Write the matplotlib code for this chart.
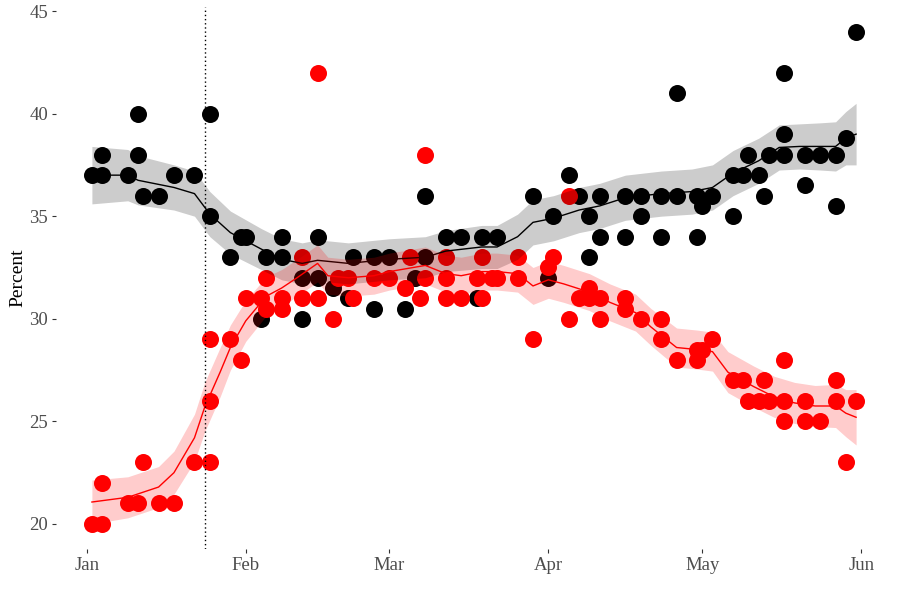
import numpy as np
import matplotlib
matplotlib.use('Agg')
import matplotlib.pyplot as plt
import matplotlib.dates as mdates

START = np.datetime64('2019-01-01')

# poll results, days counted from Jan 1
black_days = [1, 3, 3, 8, 10, 10, 11, 14, 17, 21, 24, 24,
              28, 30, 31, 34, 35, 38, 38, 42, 42, 45, 45, 48, 51, 52, 56, 56, 59,
              62, 64, 66, 66, 70, 73, 76, 77, 80, 87, 90, 91,
              94, 96, 98, 98, 100, 100, 105, 105, 108, 108, 112, 112, 115, 115,
              119, 119, 120, 122, 126, 126, 128, 129, 131, 132, 133,
              136, 136, 136, 140, 140, 143, 146, 146, 148, 150]
black_vals = [37, 37, 38, 37, 40, 38, 36, 36, 37, 37, 40, 35,
              33, 34, 34, 30, 33, 34, 33, 32, 30, 32, 34, 31.5, 31, 33, 33, 30.5, 33,
              30.5, 32, 33, 36, 34, 34, 31, 34, 34, 36, 32, 35,
              37, 36, 35, 33, 36, 34, 36, 34, 36, 35, 36, 34, 36, 41,
              36, 34, 35.5, 36, 35, 37, 37, 38, 37, 36, 38,
              38, 39, 42, 38, 36.5, 38, 38, 35.5, 38.8, 44]

red_days = [1, 3, 3, 8, 10, 11, 14, 17, 21, 24, 24, 24,
            28, 30, 31, 34, 35, 35, 38, 38, 42, 42, 45, 45, 48, 49, 51, 52, 56, 59,
            62, 63, 65, 66, 66, 70, 70, 70, 73, 76, 77, 77, 79, 80, 84, 84, 87, 90, 91,
            94, 94, 96, 98, 98, 100, 100, 105, 105, 108, 112, 112, 115,
            119, 119, 120, 122, 126, 128, 129, 131, 132, 133,
            136, 136, 136, 140, 140, 143, 146, 146, 148, 150]
red_vals = [20, 20, 22, 21, 21, 23, 21, 21, 23, 23, 26, 29,
            29, 28, 31, 31, 32, 30.5, 31, 30.5, 33, 31, 31, 42, 30, 32, 32, 31, 32, 32,
            31.5, 33, 31, 38, 32, 33, 32, 31, 31, 32, 33, 31, 32, 32, 33, 32, 29, 32.5, 33,
            36, 30, 31, 31.5, 31, 31, 30, 31, 30.5, 30, 30, 29, 28,
            28.5, 28, 28.5, 29, 27, 27, 26, 26, 27, 26,
            26, 28, 25, 26, 25, 25, 27, 26, 23, 26]

# smoothed trend + band half-width
black_trend_days = [1, 8, 10, 17, 21, 24, 28, 34, 38, 42, 45, 49, 51, 59, 66, 70, 77, 80,
                    84, 87, 91, 96, 100, 105, 112, 118, 122, 126, 131, 135, 139, 143,
                    146, 148, 150]
black_trend = [37.0, 37.0, 36.75, 36.4, 36.1, 35.1, 34.2, 33.4, 32.9, 32.7, 32.85, 32.75,
               32.7, 32.9, 33.0, 33.3, 33.5, 33.5, 34.0, 34.7, 34.9, 35.3, 35.5, 35.9,
               36.1, 36.2, 36.4, 37.1, 37.7, 38.35, 38.4, 38.4, 38.4, 38.8, 39.0]
black_band = [1.4, 1.25, 1.2, 1.1, 1.1, 1.1, 1.05, 1.0, 1.0, 1.0, 1.0, 1.0,
              1.0, 1.0, 1.0, 1.0, 1.05, 1.05, 1.1, 1.1, 1.1, 1.1, 1.1, 1.1,
              1.1, 1.1, 1.1, 1.1, 1.1, 1.1, 1.1, 1.15, 1.2, 1.3, 1.5]

red_trend_days = [1, 8, 14, 17, 21, 23, 26, 28, 31, 35, 38, 41, 45, 47, 51, 56, 59, 66,
                  70, 73, 77, 80, 84, 87, 90, 93, 98, 102, 107, 110, 115, 119, 122,
                  125, 130, 134, 138, 142, 146, 148, 150]
red_trend = [21.07, 21.3, 21.8, 22.5, 24.2, 25.7, 27.4, 28.6, 29.9, 31.1, 31.5, 32.0,
             32.7, 32.1, 32.0, 32.1, 32.3, 32.6, 32.2, 32.1, 32.3, 32.3, 32.2, 31.6,
             31.9, 31.7, 31.3, 30.8, 30.3, 29.6, 28.6, 28.5, 28.4, 27.4, 26.7, 26.2,
             25.9, 25.75, 25.75, 25.4, 25.2]
red_band = [1.07, 1.0, 1.0, 1.05, 1.15, 1.2, 1.2, 1.1, 1.0, 0.95, 0.9, 0.9,
            0.9, 0.9, 0.9, 0.9, 0.9, 0.9, 0.9, 0.9, 0.9, 0.9, 0.9, 0.9,
            0.9, 0.9, 0.9, 0.9, 0.9, 0.9, 0.95, 0.95, 0.95, 1.0, 1.0, 1.0,
            1.0, 1.0, 1.05, 1.15, 1.35]

event_day = 23


def to_dates(days):
    return START + np.array(days).astype('timedelta64[D]')


plt.rcParams['font.family'] = ['Liberation Serif', 'DejaVu Serif']

fig = plt.figure(figsize=(9, 6), dpi=100)
ax = fig.add_axes([56 / 900, 1 - 548.6 / 600, (892 - 56) / 900, (548.6 - 6.9) / 600])

ax.scatter(to_dates(black_days), black_vals, s=150, color='black', linewidths=0, zorder=2)
ax.scatter(to_dates(red_days), red_vals, s=150, color='#ff0000', linewidths=0, zorder=3)

bt = np.array(black_trend)
bb = np.array(black_band)
ax.fill_between(to_dates(black_trend_days), bt - bb, bt + bb, color='black', alpha=0.2,
                linewidth=0, zorder=4)
ax.plot(to_dates(black_trend_days), bt, color='black', lw=1.0, zorder=5)

rt = np.array(red_trend)
rb = np.array(red_band)
ax.fill_between(to_dates(red_trend_days), rt - rb, rt + rb, color='#ff0000', alpha=0.2,
                linewidth=0, zorder=6)
ax.plot(to_dates(red_trend_days), rt, color='#ff0000', lw=1.0, zorder=7)

ax.axvline(to_dates([event_day])[0], color='black', linestyle=(0, (1, 2)), lw=1.0, zorder=8)

ax.set_xlim(to_dates([-6.45])[0], to_dates([157.45])[0])
ax.set_ylim(18.8, 45.2)
ax.set_yticks([20, 25, 30, 35, 40, 45])
ax.xaxis.set_major_locator(mdates.MonthLocator())
ax.xaxis.set_major_formatter(mdates.DateFormatter('%b'))

for s in ax.spines.values():
    s.set_visible(False)
ax.tick_params(length=2.75, width=0.8, color='#333333', labelcolor='#4d4d4d',
               labelsize=13.5, pad=3)
ax.set_ylabel('Percent', fontsize=14, color='black', labelpad=2)

fig.savefig('out.png', dpi=100)
